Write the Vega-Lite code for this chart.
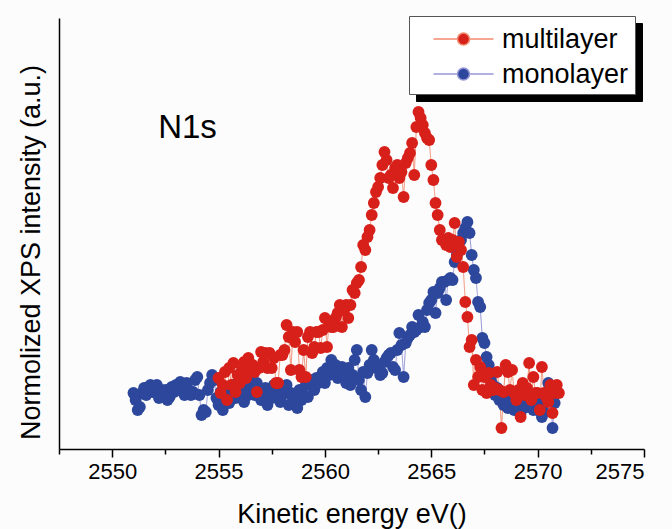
{
  "$schema": "https://vega.github.io/schema/vega-lite/v6.json",
  "width": 585,
  "height": 431,
  "autosize": "none",
  "padding": {"left": 59, "top": 18, "right": 28, "bottom": 80},
  "background": "#fcfcfc",
  "config": {"view": {"stroke": null}, "font": "Liberation Sans"},
  "data": {"values": [
    {"s":"monolayer","e":2551.0,"i":56},{"s":"monolayer","e":2551.1,"i":49},{"s":"monolayer","e":2551.2,"i":39},{"s":"monolayer","e":2551.3,"i":42},{"s":"monolayer","e":2551.4,"i":56},{"s":"monolayer","e":2551.5,"i":61},{"s":"monolayer","e":2551.6,"i":54},{"s":"monolayer","e":2551.7,"i":62},{"s":"monolayer","e":2551.8,"i":64},{"s":"monolayer","e":2551.9,"i":57},
    {"s":"monolayer","e":2552.0,"i":59},{"s":"monolayer","e":2552.1,"i":64},{"s":"monolayer","e":2552.2,"i":51},{"s":"monolayer","e":2552.3,"i":59},{"s":"monolayer","e":2552.4,"i":54},{"s":"monolayer","e":2552.5,"i":59},{"s":"monolayer","e":2552.6,"i":49},{"s":"monolayer","e":2552.7,"i":52},{"s":"monolayer","e":2552.8,"i":62},{"s":"monolayer","e":2552.9,"i":57},
    {"s":"monolayer","e":2553.0,"i":64},{"s":"monolayer","e":2553.1,"i":59},{"s":"monolayer","e":2553.2,"i":67},{"s":"monolayer","e":2553.3,"i":61},{"s":"monolayer","e":2553.4,"i":54},{"s":"monolayer","e":2553.5,"i":66},{"s":"monolayer","e":2553.6,"i":59},{"s":"monolayer","e":2553.7,"i":54},{"s":"monolayer","e":2553.8,"i":57},{"s":"monolayer","e":2553.9,"i":69},
    {"s":"monolayer","e":2554.0,"i":72},{"s":"monolayer","e":2554.1,"i":54},{"s":"monolayer","e":2554.2,"i":34},{"s":"monolayer","e":2554.3,"i":39},{"s":"monolayer","e":2554.4,"i":37},{"s":"monolayer","e":2554.5,"i":59},{"s":"monolayer","e":2554.6,"i":66},{"s":"monolayer","e":2554.7,"i":74},{"s":"monolayer","e":2554.8,"i":69},{"s":"monolayer","e":2554.9,"i":51},
    {"s":"monolayer","e":2555.0,"i":44},{"s":"monolayer","e":2555.1,"i":57},{"s":"monolayer","e":2555.2,"i":39},{"s":"monolayer","e":2555.3,"i":49},{"s":"monolayer","e":2555.4,"i":54},{"s":"monolayer","e":2555.5,"i":46},{"s":"monolayer","e":2555.6,"i":59},{"s":"monolayer","e":2555.7,"i":64},{"s":"monolayer","e":2555.8,"i":51},{"s":"monolayer","e":2555.9,"i":57},
    {"s":"monolayer","e":2556.0,"i":52},{"s":"monolayer","e":2556.1,"i":69},{"s":"monolayer","e":2556.2,"i":47},{"s":"monolayer","e":2556.3,"i":59},{"s":"monolayer","e":2556.4,"i":54},{"s":"monolayer","e":2556.5,"i":69},{"s":"monolayer","e":2556.6,"i":61},{"s":"monolayer","e":2556.7,"i":54},{"s":"monolayer","e":2556.8,"i":66},{"s":"monolayer","e":2556.9,"i":57},
    {"s":"monolayer","e":2557.0,"i":49},{"s":"monolayer","e":2557.1,"i":52},{"s":"monolayer","e":2557.2,"i":61},{"s":"monolayer","e":2557.3,"i":44},{"s":"monolayer","e":2557.4,"i":56},{"s":"monolayer","e":2557.5,"i":51},{"s":"monolayer","e":2557.6,"i":64},{"s":"monolayer","e":2557.7,"i":57},{"s":"monolayer","e":2557.8,"i":59},{"s":"monolayer","e":2557.9,"i":47},
    {"s":"monolayer","e":2558.0,"i":54},{"s":"monolayer","e":2558.1,"i":56},{"s":"monolayer","e":2558.2,"i":64},{"s":"monolayer","e":2558.3,"i":44},{"s":"monolayer","e":2558.4,"i":56},{"s":"monolayer","e":2558.5,"i":51},{"s":"monolayer","e":2558.6,"i":46},{"s":"monolayer","e":2558.7,"i":41},{"s":"monolayer","e":2558.8,"i":59},{"s":"monolayer","e":2558.9,"i":49},
    {"s":"monolayer","e":2559.0,"i":54},{"s":"monolayer","e":2559.1,"i":64},{"s":"monolayer","e":2559.2,"i":52},{"s":"monolayer","e":2559.3,"i":64},{"s":"monolayer","e":2559.4,"i":69},{"s":"monolayer","e":2559.5,"i":59},{"s":"monolayer","e":2559.6,"i":71},{"s":"monolayer","e":2559.7,"i":66},{"s":"monolayer","e":2559.8,"i":72},{"s":"monolayer","e":2559.9,"i":77},
    {"s":"monolayer","e":2560.0,"i":66},{"s":"monolayer","e":2560.1,"i":81},{"s":"monolayer","e":2560.2,"i":74},{"s":"monolayer","e":2560.3,"i":89},{"s":"monolayer","e":2560.4,"i":77},{"s":"monolayer","e":2560.5,"i":84},{"s":"monolayer","e":2560.6,"i":71},{"s":"monolayer","e":2560.7,"i":79},{"s":"monolayer","e":2560.8,"i":82},{"s":"monolayer","e":2560.9,"i":74},
    {"s":"monolayer","e":2561.0,"i":66},{"s":"monolayer","e":2561.1,"i":81},{"s":"monolayer","e":2561.2,"i":64},{"s":"monolayer","e":2561.3,"i":74},{"s":"monolayer","e":2561.4,"i":89},{"s":"monolayer","e":2561.5,"i":99},{"s":"monolayer","e":2561.6,"i":69},{"s":"monolayer","e":2561.7,"i":59},{"s":"monolayer","e":2561.8,"i":77},{"s":"monolayer","e":2561.9,"i":52},
    {"s":"monolayer","e":2562.0,"i":76},{"s":"monolayer","e":2562.1,"i":84},{"s":"monolayer","e":2562.2,"i":99},{"s":"monolayer","e":2562.3,"i":89},{"s":"monolayer","e":2562.4,"i":81},{"s":"monolayer","e":2562.5,"i":82},{"s":"monolayer","e":2562.6,"i":74},{"s":"monolayer","e":2562.7,"i":76},{"s":"monolayer","e":2562.8,"i":87},{"s":"monolayer","e":2562.9,"i":91},
    {"s":"monolayer","e":2563.0,"i":94},{"s":"monolayer","e":2563.1,"i":96},{"s":"monolayer","e":2563.2,"i":82},{"s":"monolayer","e":2563.3,"i":79},{"s":"monolayer","e":2563.4,"i":99},{"s":"monolayer","e":2563.5,"i":116},{"s":"monolayer","e":2563.6,"i":104},{"s":"monolayer","e":2563.7,"i":72},{"s":"monolayer","e":2563.8,"i":106},{"s":"monolayer","e":2563.9,"i":111},
    {"s":"monolayer","e":2564.0,"i":114},{"s":"monolayer","e":2564.1,"i":122},{"s":"monolayer","e":2564.2,"i":117},{"s":"monolayer","e":2564.3,"i":119},{"s":"monolayer","e":2564.4,"i":134},{"s":"monolayer","e":2564.5,"i":122},{"s":"monolayer","e":2564.6,"i":127},{"s":"monolayer","e":2564.7,"i":122},{"s":"monolayer","e":2564.8,"i":139},{"s":"monolayer","e":2564.9,"i":146},
    {"s":"monolayer","e":2565.0,"i":149},{"s":"monolayer","e":2565.1,"i":157},{"s":"monolayer","e":2565.2,"i":136},{"s":"monolayer","e":2565.3,"i":156},{"s":"monolayer","e":2565.4,"i":161},{"s":"monolayer","e":2565.5,"i":167},{"s":"monolayer","e":2565.6,"i":167},{"s":"monolayer","e":2565.7,"i":149},{"s":"monolayer","e":2565.8,"i":169},{"s":"monolayer","e":2565.9,"i":171},
    {"s":"monolayer","e":2566.0,"i":169},{"s":"monolayer","e":2566.1,"i":187},{"s":"monolayer","e":2566.2,"i":194},{"s":"monolayer","e":2566.3,"i":199},{"s":"monolayer","e":2566.4,"i":209},{"s":"monolayer","e":2566.5,"i":216},{"s":"monolayer","e":2566.6,"i":221},{"s":"monolayer","e":2566.7,"i":227},{"s":"monolayer","e":2566.8,"i":216},{"s":"monolayer","e":2566.9,"i":194},
    {"s":"monolayer","e":2567.0,"i":179},{"s":"monolayer","e":2567.1,"i":171},{"s":"monolayer","e":2567.2,"i":147},{"s":"monolayer","e":2567.3,"i":142},{"s":"monolayer","e":2567.4,"i":111},{"s":"monolayer","e":2567.5,"i":106},{"s":"monolayer","e":2567.6,"i":92},{"s":"monolayer","e":2567.7,"i":84},{"s":"monolayer","e":2567.8,"i":69},{"s":"monolayer","e":2567.9,"i":64},
    {"s":"monolayer","e":2568.0,"i":54},{"s":"monolayer","e":2568.1,"i":61},{"s":"monolayer","e":2568.2,"i":49},{"s":"monolayer","e":2568.3,"i":54},{"s":"monolayer","e":2568.4,"i":44},{"s":"monolayer","e":2568.5,"i":51},{"s":"monolayer","e":2568.6,"i":41},{"s":"monolayer","e":2568.7,"i":49},{"s":"monolayer","e":2568.8,"i":54},{"s":"monolayer","e":2568.9,"i":39},
    {"s":"monolayer","e":2569.0,"i":46},{"s":"monolayer","e":2569.1,"i":39},{"s":"monolayer","e":2569.2,"i":36},{"s":"monolayer","e":2569.3,"i":49},{"s":"monolayer","e":2569.4,"i":44},{"s":"monolayer","e":2569.5,"i":42},{"s":"monolayer","e":2569.6,"i":54},{"s":"monolayer","e":2569.7,"i":47},{"s":"monolayer","e":2569.8,"i":39},{"s":"monolayer","e":2569.9,"i":51},
    {"s":"monolayer","e":2570.0,"i":39},{"s":"monolayer","e":2570.1,"i":44},{"s":"monolayer","e":2570.2,"i":32},{"s":"monolayer","e":2570.3,"i":37},{"s":"monolayer","e":2570.4,"i":49},{"s":"monolayer","e":2570.5,"i":66},{"s":"monolayer","e":2570.6,"i":54},{"s":"monolayer","e":2570.7,"i":21},{"s":"monolayer","e":2570.8,"i":46},
    {"s":"multilayer","e":2555.0,"i":71},{"s":"multilayer","e":2555.1,"i":56},{"s":"multilayer","e":2555.2,"i":64},{"s":"multilayer","e":2555.3,"i":77},{"s":"multilayer","e":2555.4,"i":49},{"s":"multilayer","e":2555.5,"i":81},{"s":"multilayer","e":2555.6,"i":64},{"s":"multilayer","e":2555.7,"i":86},{"s":"multilayer","e":2555.8,"i":57},{"s":"multilayer","e":2555.9,"i":74},
    {"s":"multilayer","e":2556.0,"i":66},{"s":"multilayer","e":2556.1,"i":79},{"s":"multilayer","e":2556.2,"i":87},{"s":"multilayer","e":2556.3,"i":71},{"s":"multilayer","e":2556.4,"i":91},{"s":"multilayer","e":2556.5,"i":79},{"s":"multilayer","e":2556.6,"i":84},{"s":"multilayer","e":2556.7,"i":77},{"s":"multilayer","e":2556.8,"i":57},{"s":"multilayer","e":2556.9,"i":81},
    {"s":"multilayer","e":2557.0,"i":97},{"s":"multilayer","e":2557.1,"i":87},{"s":"multilayer","e":2557.2,"i":96},{"s":"multilayer","e":2557.3,"i":81},{"s":"multilayer","e":2557.4,"i":96},{"s":"multilayer","e":2557.5,"i":81},{"s":"multilayer","e":2557.6,"i":91},{"s":"multilayer","e":2557.7,"i":66},{"s":"multilayer","e":2557.8,"i":66},{"s":"multilayer","e":2557.9,"i":94},
    {"s":"multilayer","e":2558.0,"i":94},{"s":"multilayer","e":2558.1,"i":99},{"s":"multilayer","e":2558.2,"i":124},{"s":"multilayer","e":2558.3,"i":112},{"s":"multilayer","e":2558.4,"i":79},{"s":"multilayer","e":2558.5,"i":117},{"s":"multilayer","e":2558.6,"i":107},{"s":"multilayer","e":2558.7,"i":117},{"s":"multilayer","e":2558.8,"i":79},{"s":"multilayer","e":2558.9,"i":72},
    {"s":"multilayer","e":2559.0,"i":99},{"s":"multilayer","e":2559.1,"i":72},{"s":"multilayer","e":2559.2,"i":112},{"s":"multilayer","e":2559.3,"i":117},{"s":"multilayer","e":2559.4,"i":96},{"s":"multilayer","e":2559.5,"i":102},{"s":"multilayer","e":2559.6,"i":117},{"s":"multilayer","e":2559.7,"i":117},{"s":"multilayer","e":2559.8,"i":101},{"s":"multilayer","e":2559.9,"i":119},
    {"s":"multilayer","e":2560.0,"i":131},{"s":"multilayer","e":2560.1,"i":102},{"s":"multilayer","e":2560.2,"i":126},{"s":"multilayer","e":2560.3,"i":122},{"s":"multilayer","e":2560.4,"i":122},{"s":"multilayer","e":2560.5,"i":131},{"s":"multilayer","e":2560.6,"i":136},{"s":"multilayer","e":2560.7,"i":144},{"s":"multilayer","e":2560.8,"i":122},{"s":"multilayer","e":2560.9,"i":139},
    {"s":"multilayer","e":2561.0,"i":144},{"s":"multilayer","e":2561.1,"i":131},{"s":"multilayer","e":2561.2,"i":144},{"s":"multilayer","e":2561.3,"i":159},{"s":"multilayer","e":2561.4,"i":156},{"s":"multilayer","e":2561.5,"i":166},{"s":"multilayer","e":2561.6,"i":169},{"s":"multilayer","e":2561.7,"i":182},{"s":"multilayer","e":2561.8,"i":204},{"s":"multilayer","e":2561.9,"i":199},
    {"s":"multilayer","e":2562.0,"i":212},{"s":"multilayer","e":2562.1,"i":219},{"s":"multilayer","e":2562.2,"i":234},{"s":"multilayer","e":2562.3,"i":246},{"s":"multilayer","e":2562.4,"i":257},{"s":"multilayer","e":2562.5,"i":262},{"s":"multilayer","e":2562.6,"i":271},{"s":"multilayer","e":2562.7,"i":284},{"s":"multilayer","e":2562.8,"i":297},{"s":"multilayer","e":2562.9,"i":289},
    {"s":"multilayer","e":2563.0,"i":271},{"s":"multilayer","e":2563.1,"i":274},{"s":"multilayer","e":2563.2,"i":261},{"s":"multilayer","e":2563.3,"i":281},{"s":"multilayer","e":2563.4,"i":284},{"s":"multilayer","e":2563.5,"i":271},{"s":"multilayer","e":2563.6,"i":277},{"s":"multilayer","e":2563.7,"i":252},{"s":"multilayer","e":2563.8,"i":286},{"s":"multilayer","e":2563.9,"i":291},
    {"s":"multilayer","e":2564.0,"i":296},{"s":"multilayer","e":2564.1,"i":306},{"s":"multilayer","e":2564.2,"i":274},{"s":"multilayer","e":2564.3,"i":322},{"s":"multilayer","e":2564.4,"i":337},{"s":"multilayer","e":2564.5,"i":331},{"s":"multilayer","e":2564.6,"i":324},{"s":"multilayer","e":2564.7,"i":316},{"s":"multilayer","e":2564.8,"i":311},{"s":"multilayer","e":2564.9,"i":309},
    {"s":"multilayer","e":2565.0,"i":284},{"s":"multilayer","e":2565.1,"i":269},{"s":"multilayer","e":2565.2,"i":246},{"s":"multilayer","e":2565.3,"i":234},{"s":"multilayer","e":2565.4,"i":219},{"s":"multilayer","e":2565.5,"i":209},{"s":"multilayer","e":2565.6,"i":209},{"s":"multilayer","e":2565.7,"i":204},{"s":"multilayer","e":2565.8,"i":211},{"s":"multilayer","e":2565.9,"i":202},
    {"s":"multilayer","e":2566.0,"i":209},{"s":"multilayer","e":2566.1,"i":226},{"s":"multilayer","e":2566.2,"i":192},{"s":"multilayer","e":2566.3,"i":207},{"s":"multilayer","e":2566.4,"i":199},{"s":"multilayer","e":2566.5,"i":182},{"s":"multilayer","e":2566.6,"i":147},{"s":"multilayer","e":2566.7,"i":132},{"s":"multilayer","e":2566.8,"i":102},{"s":"multilayer","e":2566.9,"i":109},
    {"s":"multilayer","e":2567.0,"i":64},{"s":"multilayer","e":2567.1,"i":89},{"s":"multilayer","e":2567.2,"i":72},{"s":"multilayer","e":2567.3,"i":82},{"s":"multilayer","e":2567.4,"i":59},{"s":"multilayer","e":2567.5,"i":72},{"s":"multilayer","e":2567.6,"i":56},{"s":"multilayer","e":2567.7,"i":76},{"s":"multilayer","e":2567.8,"i":64},{"s":"multilayer","e":2567.9,"i":59},
    {"s":"multilayer","e":2568.0,"i":61},{"s":"multilayer","e":2568.1,"i":77},{"s":"multilayer","e":2568.2,"i":59},{"s":"multilayer","e":2568.3,"i":21},{"s":"multilayer","e":2568.4,"i":57},{"s":"multilayer","e":2568.5,"i":84},{"s":"multilayer","e":2568.6,"i":77},{"s":"multilayer","e":2568.7,"i":59},{"s":"multilayer","e":2568.8,"i":79},{"s":"multilayer","e":2568.9,"i":56},
    {"s":"multilayer","e":2569.0,"i":49},{"s":"multilayer","e":2569.1,"i":59},{"s":"multilayer","e":2569.2,"i":32},{"s":"multilayer","e":2569.3,"i":66},{"s":"multilayer","e":2569.4,"i":54},{"s":"multilayer","e":2569.5,"i":61},{"s":"multilayer","e":2569.6,"i":86},{"s":"multilayer","e":2569.7,"i":49},{"s":"multilayer","e":2569.8,"i":72},{"s":"multilayer","e":2569.9,"i":56},
    {"s":"multilayer","e":2570.0,"i":56},{"s":"multilayer","e":2570.1,"i":39},{"s":"multilayer","e":2570.2,"i":82},{"s":"multilayer","e":2570.3,"i":56},{"s":"multilayer","e":2570.4,"i":52},{"s":"multilayer","e":2570.5,"i":47},{"s":"multilayer","e":2570.6,"i":64},{"s":"multilayer","e":2570.7,"i":36},{"s":"multilayer","e":2570.8,"i":56},{"s":"multilayer","e":2570.9,"i":64},
    {"s":"multilayer","e":2571.0,"i":56}
  ]},
  "layer": [
    {
      "mark": {"type": "line", "strokeWidth": 1, "interpolate": "linear"},
      "encoding": {
        "x": {"field": "e", "type": "quantitative",
          "scale": {"domain": [2547.5, 2575], "nice": false, "zero": false},
          "axis": {
            "values": [2547.5, 2550, 2552.5, 2555, 2557.5, 2560, 2562.5, 2565, 2567.5, 2570, 2572.5, 2575],
            "format": "d",
            "labelExpr": "datum.value % 5 === 0 ? datum.label : ''",
            "grid": false,
            "domainColor": "#000000", "domainWidth": 1.5,
            "tickColor": "#000000", "tickWidth": 1.5,
            "tickSize": {"condition": {"test": "datum.value % 5 !== 0", "value": 5}, "value": 8},
            "labelFont": "Liberation Sans", "labelFontSize": 22, "labelColor": "#000000", "labelPadding": 4,
            "labelOverlap": false,
            "title": "Kinetic energy eV()",
            "titleFont": "Liberation Sans", "titleFontSize": 27, "titleFontWeight": "normal", "titleColor": "#000000",
            "titleBaseline": "alphabetic", "titleY": 73
          }
        },
        "y": {"field": "i", "type": "quantitative",
          "scale": {"domain": [0, 431], "nice": false, "zero": false},
          "axis": {
            "ticks": false, "labels": false, "grid": false,
            "domainColor": "#000000", "domainWidth": 1.5,
            "title": "Normolized XPS intensity (a.u.)",
            "titleFont": "Liberation Sans", "titleFontSize": 27, "titleFontWeight": "normal", "titleColor": "#000000",
            "titleBaseline": "alphabetic", "titleAlign": "center", "titleAngle": 270, "titleX": -20, "titleY": 234
          }
        },
        "stroke": {"field": "s", "type": "nominal",
          "scale": {"domain": ["multilayer", "monolayer"], "range": ["#f28a6e", "#9696d8"]},
          "legend": {
            "orient": "none", "legendX": 350, "legendY": -2, "title": null, "zindex": 2,
            "symbolType": "M-5,0.6H-1.1M1.1,0.6H5M1,0.6A1,1,0,1,1,-1,0.6A1,1,0,1,1,1,0.6Z",
            "symbolSize": 144, "symbolStrokeWidth": 1.5,
            "symbolOffset": 35, "labelOffset": 25, "padding": 6, "rowPadding": 4,
            "labelFont": "Liberation Sans", "labelFontSize": 27, "labelColor": "#000000",
            "fillColor": "#ffffff", "strokeColor": "#555555",
            "encode": {
              "symbols": {"update": {
                "fill": {"scale": "fill", "field": "value"},
                "stroke": {"scale": "stroke", "field": "value"},
                "opacity": {"value": 1}, "strokeWidth": {"value": 1.5}
              }},
              "labels": {"update": {"dy": {"value": 4}}}
            }
          }
        },
        "strokeDash": {"field": "s", "type": "nominal",
          "scale": {"domain": ["monolayer", "multilayer"], "range": [[1, 0], [1, 0]]},
          "legend": {
            "orient": "none", "legendX": 357, "legendY": 5, "title": null, "zindex": 1,
            "symbolType": "M-5,0.6H-1.1M1.1,0.6H5M1,0.6A1,1,0,1,1,-1,0.6A1,1,0,1,1,1,0.6Z",
            "symbolSize": 144, "symbolOpacity": 0,
            "symbolOffset": 35, "labelOffset": 152, "padding": 6, "rowPadding": 4,
            "labelExpr": "''",
            "labelFont": "Liberation Sans", "labelFontSize": 27, "labelColor": "#000000",
            "fillColor": "#000000", "strokeColor": "#000000",
            "encode": {"labels": {"update": {"dy": {"value": 4}}}}
          }
        }
      }
    },
    {
      "mark": {"type": "circle", "size": 140, "opacity": 1},
      "encoding": {
        "x": {"field": "e", "type": "quantitative"},
        "y": {"field": "i", "type": "quantitative"},
        "fill": {"field": "s", "type": "nominal",
          "scale": {"domain": ["multilayer", "monolayer"], "range": ["#d8201b", "#2d479c"]},
          "legend": {
            "orient": "none", "legendX": 350, "legendY": -2, "title": null, "zindex": 2,
            "symbolType": "M-5,0.6H-1.1M1.1,0.6H5M1,0.6A1,1,0,1,1,-1,0.6A1,1,0,1,1,1,0.6Z",
            "symbolSize": 144, "symbolStrokeWidth": 1.5,
            "symbolOffset": 35, "labelOffset": 25, "padding": 6, "rowPadding": 4,
            "labelFont": "Liberation Sans", "labelFontSize": 27, "labelColor": "#000000",
            "fillColor": "#ffffff", "strokeColor": "#555555",
            "encode": {
              "symbols": {"update": {
                "fill": {"scale": "fill", "field": "value"},
                "stroke": {"scale": "stroke", "field": "value"},
                "opacity": {"value": 1}, "strokeWidth": {"value": 1.5}
              }},
              "labels": {"update": {"dy": {"value": 4}}}
            }
          }
        }
      }
    },
    {
      "data": {"values": [{"e": 2552.16, "i": 311, "t": "N1s"}]},
      "mark": {"type": "text", "align": "left", "baseline": "alphabetic", "fontSize": 33, "font": "Liberation Sans", "color": "#000000"},
      "encoding": {
        "x": {"field": "e", "type": "quantitative"},
        "y": {"field": "i", "type": "quantitative"},
        "text": {"field": "t", "type": "nominal"}
      }
    }
  ]
}
